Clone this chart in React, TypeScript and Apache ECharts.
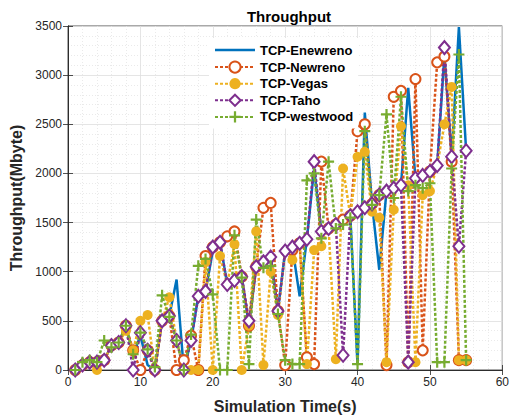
import React, { useEffect, useRef } from "react";
import * as echarts from "echarts";

const time = [1,2,3,4,5,6,7,8,9,10,11,12,13,14,15,16,17,18,19,20,21,22,23,24,25,26,27,28,29,30,31,32,33,34,35,36,37,38,39,40,41,42,43,44,45,46,47,48,49,50,51,52,53,54,55];

const enewreno = [0,50,80,80,100,250,280,450,150,350,50,0,500,550,920,0,300,750,800,1210,1300,870,910,950,450,1050,1100,1150,600,1210,1250,750,1330,2050,1410,1440,1480,1530,1570,50,2620,1690,1020,1820,1850,1880,2870,1950,1980,2020,2080,3200,2170,3490,2230];

const newreno = [0,50,80,80,100,250,280,450,200,0,200,0,500,550,0,100,350,0,1160,1250,1300,1360,1410,950,450,1050,1650,1700,600,50,1220,1290,130,60,2120,1440,1480,1530,1570,2430,2500,1690,1780,50,2780,2840,80,2960,200,2020,3130,3190,2120,100,100];

const vegas = [0,50,80,0,100,250,280,400,200,500,560,0,500,740,300,0,0,0,1100,0,1160,870,1280,0,450,1410,50,1000,560,1210,1120,1290,60,1220,1260,1440,110,2050,1570,2170,2220,1610,1550,80,1630,2480,1880,80,1780,1820,2080,2500,2880,100,100];

const taho = [0,50,80,80,100,250,280,450,0,380,200,0,500,550,300,0,300,750,800,1250,1300,870,910,950,500,1050,1100,1150,600,1210,1250,1290,1330,2120,1410,1440,1480,150,1570,1610,1650,1690,1780,1820,1850,1880,80,1950,1980,2020,2080,3280,2170,1260,2230];

const westwood = [0,80,100,80,300,230,280,450,160,380,210,30,760,540,300,0,360,1060,1130,770,0,0,1370,940,60,1530,1040,1060,570,100,60,60,1930,2000,1340,2120,1440,1480,1550,60,2430,1680,1780,2600,1750,2780,1820,1880,1850,1900,80,80,2050,3210,100];

const xTicks = [0, 10, 20, 30, 40, 50, 60];
const yTicks = [0, 500, 1000, 1500, 2000, 2500, 3000, 3500];

const plusPath = "path://M4,0H6V4H10V6H6V10H4V6H0V4H4Z";
const lineIcon = "path://M0,0H0.01V0.01H0Z M0,5.8H40V8.2H0Z M39.99,13.99H40V14H39.99Z";
const FONT = "'Liberation Sans', Arial, Helvetica, sans-serif";
const AX = "#262626";

export default function App() {
  const ref = useRef<HTMLDivElement>(null);
  useEffect(() => {
    if (!ref.current) return;
    const chart = echarts.init(ref.current, undefined, { renderer: "svg" });
    const pts = (arr: number[]) => time.map((t, i) => [t, arr[i]]);
    const dotted = [3, 2];
    const axisCommon = {
      type: "value" as const,
      axisLine: { show: true, lineStyle: { color: AX, width: 0.8 } },
      axisTick: { show: true, inside: true, length: 5, lineStyle: { color: AX, width: 0.8 } },
    };
    chart.setOption({
      animation: false,
      backgroundColor: "#fff",
      textStyle: { fontFamily: FONT },
      title: {
        text: "Throughput",
        left: 284,
        textAlign: "center",
        top: 4,
        textStyle: { fontSize: 15, fontWeight: "bold", color: "#000", fontFamily: FONT },
      },
      grid: { left: 64, right: 8, top: 26, bottom: 46, show: true, borderColor: AX, borderWidth: 0.8, backgroundColor: "#fff" },
      legend: {
        orient: "vertical",
        left: 209,
        top: 38,
        itemWidth: 40,
        itemHeight: 14,
        itemGap: 3.5,
        padding: 5,
        backgroundColor: "#fff",
        textStyle: { fontSize: 13, fontWeight: "bold", color: "#000", fontFamily: FONT },
        data: [
          { name: "TCP-Enewreno", icon: lineIcon, itemStyle: { color: "#0072BD" } },
          "TCP-Newreno",
          "TCP-Vegas",
          "TCP-Taho",
          "TCP-westwood",
        ],
      },
      xAxis: [
        {
          ...axisCommon,
          min: 0,
          max: 60,
          interval: 10,
          name: "Simulation Time(s)",
          nameLocation: "middle",
          nameGap: 28,
          nameTextStyle: { fontSize: 16, fontWeight: "bold", color: AX, fontFamily: FONT },
          axisLabel: { fontSize: 12, color: AX, margin: 6, formatter: (v: number) => (xTicks.includes(v) ? String(v) : "") },
          splitLine: { show: true, lineStyle: { color: "#dedede", width: 0.8 } },
          minorTick: { show: false, splitNumber: 5 },
          minorSplitLine: { show: true, lineStyle: { color: "#e4e4e4", width: 0.8, type: [1, 2] } },
        },
        {
          ...axisCommon,
          position: "top",
          min: 0,
          max: 60,
          interval: 10,
          axisLabel: { show: false },
          splitLine: { show: false },
        },
      ],
      yAxis: [
        {
          ...axisCommon,
          min: 0,
          max: 3500,
          interval: 500,
          name: "Throughput(Mbyte)",
          nameLocation: "middle",
          nameGap: 44,
          nameTextStyle: { fontSize: 16, fontWeight: "bold", color: AX, fontFamily: FONT },
          axisLabel: { fontSize: 12, color: AX, margin: 6, formatter: (v: number) => (yTicks.includes(v) ? String(v) : "") },
          splitLine: { show: true, lineStyle: { color: "#dedede", width: 0.8 } },
          minorTick: { show: false, splitNumber: 5 },
          minorSplitLine: { show: true, lineStyle: { color: "#e4e4e4", width: 0.8, type: [1, 2] } },
        },
        {
          ...axisCommon,
          position: "right",
          min: 0,
          max: 3500,
          interval: 500,
          axisLabel: { show: false },
          splitLine: { show: false },
        },
      ],
      series: [
        {
          name: "TCP-Enewreno",
          type: "line",
          data: pts(enewreno),
          symbol: "none",
          lineStyle: { color: "#0072BD", width: 2.5 },
          itemStyle: { color: "#0072BD" },
        },
        {
          name: "TCP-Newreno",
          type: "line",
          data: pts(newreno),
          symbol: "emptyCircle",
          symbolSize: 10,
          lineStyle: { color: "#D95319", width: 2.5, type: dotted },
          itemStyle: { color: "#D95319", borderColor: "#D95319", borderWidth: 2.2 },
        },
        {
          name: "TCP-Vegas",
          type: "line",
          data: pts(vegas),
          symbol: "circle",
          symbolSize: 10,
          lineStyle: { color: "#EDB120", width: 2.5, type: dotted },
          itemStyle: { color: "#EDB120" },
        },
        {
          name: "TCP-Taho",
          type: "line",
          data: pts(taho),
          symbol: "emptyDiamond",
          symbolSize: [11, 13],
          lineStyle: { color: "#7E2F8E", width: 2.5, type: dotted },
          itemStyle: { color: "#7E2F8E", borderColor: "#7E2F8E", borderWidth: 2.2 },
        },
        {
          name: "TCP-westwood",
          type: "line",
          data: pts(westwood),
          symbol: plusPath,
          symbolSize: 11,
          lineStyle: { color: "#77AC30", width: 2.5, type: dotted },
          itemStyle: { color: "#77AC30" },
        },
      ],
    });
    return () => chart.dispose();
  }, []);
  return <div ref={ref} style={{ width: 512, height: 419, position: "absolute", left: 0, top: 0 }} />;
}
